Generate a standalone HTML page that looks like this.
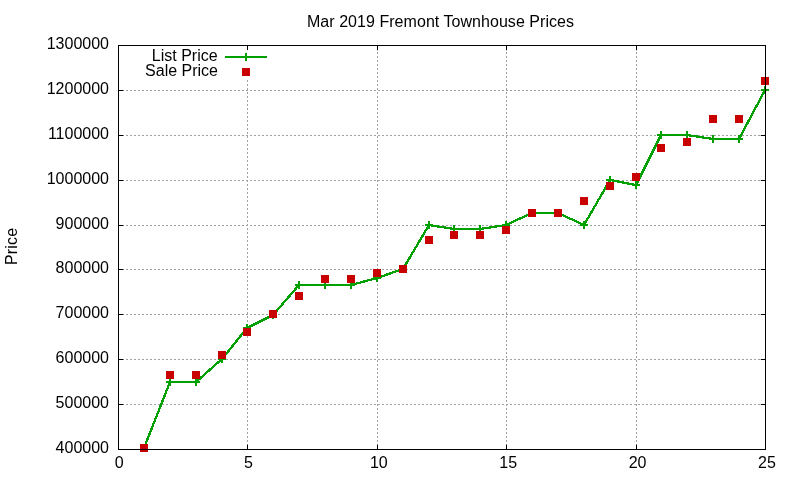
<!DOCTYPE html><html><head><meta charset="utf-8"><title>Mar 2019 Fremont Townhouse Prices</title>
<style>html,body{margin:0;padding:0;background:#fff;}svg{display:block;}text{font-family:"Liberation Sans",Arial,sans-serif;font-size:16px;fill:#000;}</style></head><body>
<svg width="800" height="480" viewBox="0 0 800 480">
<rect width="800" height="480" fill="#fff"/>
<path d="M118.0 404.5H765.5M118.0 359.5H765.5M118.0 314.5H765.5M118.0 269.5H765.5M118.0 225.5H765.5M118.0 180.5H765.5M118.0 135.5H765.5M118.0 90.5H765.5M247.5 450.0V45.5M377.5 450.0V45.5M506.5 450.0V45.5M636.5 450.0V45.5" stroke="#a0a0a0" stroke-width="1" stroke-dasharray="2 2" fill="none"/>
<path d="M118.5 449.5h4.75M765.5 449.5h-4.75M118.5 404.5h4.75M765.5 404.5h-4.75M118.5 359.5h4.75M765.5 359.5h-4.75M118.5 314.5h4.75M765.5 314.5h-4.75M118.5 269.5h4.75M765.5 269.5h-4.75M118.5 225.5h4.75M765.5 225.5h-4.75M118.5 180.5h4.75M765.5 180.5h-4.75M118.5 135.5h4.75M765.5 135.5h-4.75M118.5 90.5h4.75M765.5 90.5h-4.75M118.5 45.5h4.75M765.5 45.5h-4.75M118.5 449.5v-4.75M118.5 45.5v4.75M247.5 449.5v-4.75M247.5 45.5v4.75M377.5 449.5v-4.75M377.5 45.5v4.75M506.5 449.5v-4.75M506.5 45.5v4.75M636.5 449.5v-4.75M636.5 45.5v4.75M765.5 449.5v-4.75M765.5 45.5v4.75" stroke="#000" stroke-width="1" fill="none"/>
<text x="109" y="453.00" text-anchor="end">400000</text>
<text x="109" y="408.11" text-anchor="end">500000</text>
<text x="109" y="363.22" text-anchor="end">600000</text>
<text x="109" y="318.33" text-anchor="end">700000</text>
<text x="109" y="273.44" text-anchor="end">800000</text>
<text x="109" y="228.56" text-anchor="end">900000</text>
<text x="109" y="183.67" text-anchor="end">1000000</text>
<text x="109" y="138.78" text-anchor="end">1100000</text>
<text x="109" y="93.89" text-anchor="end">1200000</text>
<text x="109" y="49.00" text-anchor="end">1300000</text>
<text x="119.25" y="468.3" text-anchor="middle">0</text>
<text x="248.40" y="468.3" text-anchor="middle">5</text>
<text x="378.80" y="468.3" text-anchor="middle">10</text>
<text x="508.20" y="468.3" text-anchor="middle">15</text>
<text x="637.60" y="468.3" text-anchor="middle">20</text>
<text x="767.00" y="468.3" text-anchor="middle">25</text>
<text x="307" y="27" textLength="267" lengthAdjust="spacing">Mar 2019 Fremont Townhouse Prices</text>
<text transform="translate(17,265) rotate(-90)" textLength="37.2" lengthAdjust="spacing">Price</text>
<rect x="140" y="50" width="132" height="30" fill="#fff"/>
<text x="217.6" y="61.2" text-anchor="end">List Price</text>
<text x="218" y="76.3" text-anchor="end">Sale Price</text>
<path d="M225 57H267" stroke="#00a000" stroke-width="2" fill="none"/>
<path d="M242.00 57.00h8M246.00 53.00v8" stroke="#00a000" stroke-width="2" fill="none"/>
<rect x="242" y="68" width="8" height="8" fill="#c80000"/>
<polyline points="144.00,448.00 170.00,382.00 196.00,382.00 222.00,359.00 247.00,328.00 273.00,315.00 299.00,285.00 325.00,285.00 351.00,285.00 377.00,278.00 403.00,269.00 429.00,225.00 454.00,229.00 480.00,229.00 506.00,225.00 532.00,213.00 558.00,213.00 584.00,225.00 610.00,180.00 636.00,185.00 661.00,135.00 687.00,135.00 713.00,139.00 739.00,139.00 765.00,90.00" stroke="#00a000" stroke-width="2.3" fill="none" stroke-linejoin="round" shape-rendering="crispEdges"/>
<path d="M140.00 448.00h8M144.00 444.00v8M166.00 382.00h8M170.00 378.00v8M192.00 382.00h8M196.00 378.00v8M218.00 359.00h8M222.00 355.00v8M243.00 328.00h8M247.00 324.00v8M269.00 315.00h8M273.00 311.00v8M295.00 285.00h8M299.00 281.00v8M321.00 285.00h8M325.00 281.00v8M347.00 285.00h8M351.00 281.00v8M373.00 278.00h8M377.00 274.00v8M399.00 269.00h8M403.00 265.00v8M425.00 225.00h8M429.00 221.00v8M450.00 229.00h8M454.00 225.00v8M476.00 229.00h8M480.00 225.00v8M502.00 225.00h8M506.00 221.00v8M528.00 213.00h8M532.00 209.00v8M554.00 213.00h8M558.00 209.00v8M580.00 225.00h8M584.00 221.00v8M606.00 180.00h8M610.00 176.00v8M632.00 185.00h8M636.00 181.00v8M657.00 135.00h8M661.00 131.00v8M683.00 135.00h8M687.00 131.00v8M709.00 139.00h8M713.00 135.00v8M735.00 139.00h8M739.00 135.00v8M761.00 90.00h8M765.00 86.00v8" stroke="#00a000" stroke-width="2" fill="none"/>
<rect x="140" y="444" width="8" height="8" fill="#c80000"/>
<rect x="166" y="371" width="8" height="8" fill="#c80000"/>
<rect x="192" y="371" width="8" height="8" fill="#c80000"/>
<rect x="218" y="351" width="8" height="8" fill="#c80000"/>
<rect x="243" y="328" width="8" height="8" fill="#c80000"/>
<rect x="269" y="310" width="8" height="8" fill="#c80000"/>
<rect x="295" y="292" width="8" height="8" fill="#c80000"/>
<rect x="321" y="275" width="8" height="8" fill="#c80000"/>
<rect x="347" y="275" width="8" height="8" fill="#c80000"/>
<rect x="373" y="269" width="8" height="8" fill="#c80000"/>
<rect x="399" y="265" width="8" height="8" fill="#c80000"/>
<rect x="425" y="236" width="8" height="8" fill="#c80000"/>
<rect x="450" y="231" width="8" height="8" fill="#c80000"/>
<rect x="476" y="231" width="8" height="8" fill="#c80000"/>
<rect x="502" y="226" width="8" height="8" fill="#c80000"/>
<rect x="528" y="209" width="8" height="8" fill="#c80000"/>
<rect x="554" y="209" width="8" height="8" fill="#c80000"/>
<rect x="580" y="197" width="8" height="8" fill="#c80000"/>
<rect x="606" y="182" width="8" height="8" fill="#c80000"/>
<rect x="632" y="173" width="8" height="8" fill="#c80000"/>
<rect x="657" y="144" width="8" height="8" fill="#c80000"/>
<rect x="683" y="138" width="8" height="8" fill="#c80000"/>
<rect x="709" y="115" width="8" height="8" fill="#c80000"/>
<rect x="735" y="115" width="8" height="8" fill="#c80000"/>
<rect x="761" y="77" width="8" height="8" fill="#c80000"/>
<rect x="118.5" y="45.5" width="647.0" height="404.0" stroke="#000" stroke-width="1" fill="none"/>
</svg></body></html>
